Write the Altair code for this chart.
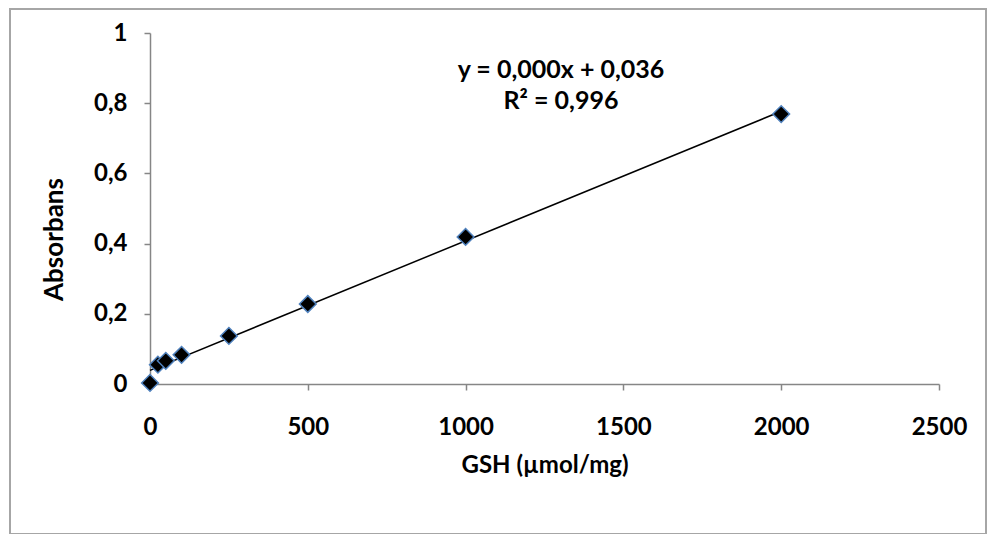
import altair as alt
import pandas as pd

# Data
gsh = [0, 25, 50, 100, 250, 500, 1000, 2000]
absorbans = [0.003, 0.055, 0.066, 0.083, 0.137, 0.228, 0.419, 0.769]
equation_lines = ["y = 0,000x + 0,036", "R² = 0,996"]
x_ticks = [0, 500, 1000, 1500, 2000, 2500]
y_ticks = [0, 0.2, 0.4, 0.6, 0.8, 1]

df = pd.DataFrame({"GSH": gsh, "Absorbans": absorbans})

FONT = "Lato"
AXIS_GRAY = "#868686"
FS = 24

x_enc = alt.X(
    "GSH:Q",
    scale=alt.Scale(domain=[0, 2500], nice=False, zero=True),
    axis=alt.Axis(
        values=x_ticks,
        title="GSH (µmol/mg)",
        titleY=81,
        titleBaseline="middle",
        labelPadding=25,
        labelFlush=False,
        format="d",
    ),
)
y_enc = alt.Y(
    "Absorbans:Q",
    scale=alt.Scale(domain=[0, 1], nice=False),
    axis=alt.Axis(
        values=y_ticks,
        title="Absorbans",
        titleFontSize=26,
        titleX=-83,
        titleY=206,
        labelPadding=17,
        labelFlush=False,
        labelExpr="replace(format(datum.value, '~g'), '.', ',')",
    ),
)

base = alt.Chart(df)

trend = base.transform_regression(
    "GSH", "Absorbans", method="linear", extent=[0, 2000]
).mark_line(color="black", strokeWidth=1.5).encode(x=x_enc, y=y_enc)

points = base.mark_point(
    shape="diamond", filled=True, fill="black", stroke="#4f81bd",
    strokeWidth=1.5, size=280, opacity=1,
).encode(x=x_enc, y=y_enc)

label = alt.Chart(pd.DataFrame({"t": [0]})).mark_text(
    text=equation_lines, font=FONT, fontWeight="bold", fontSize=25,
    align="center", baseline="top", lineHeight=31, color="black",
).encode(x=alt.value(411), y=alt.value(25))

border = alt.Chart(pd.DataFrame({"t": [0]})).mark_rect(
    fill=None, fillOpacity=0, stroke="#a6a6a6", strokeWidth=2,
).encode(
    x=alt.value(-140), x2=alt.value(836),
    y=alt.value(-24), y2=alt.value(501),
)

chart = alt.layer(border, trend, points, label).properties(
    width=789,
    height=351,
    padding={"left": 142, "top": 25, "right": 48, "bottom": 150},
    autosize=alt.AutoSizeParams(type="none"),
).configure_view(stroke=None).configure_axis(
    grid=False,
    domainColor=AXIS_GRAY,
    domainWidth=1.5,
    tickColor=AXIS_GRAY,
    tickWidth=1.5,
    tickSize=6,
    labelFont=FONT,
    labelFontWeight="bold",
    labelFontSize=FS,
    labelColor="black",
    titleFont=FONT,
    titleFontWeight="bold",
    titleFontSize=FS,
    titleColor="black",
)

chart.save("out.html", embed_options={"renderer": "svg", "actions": False})
